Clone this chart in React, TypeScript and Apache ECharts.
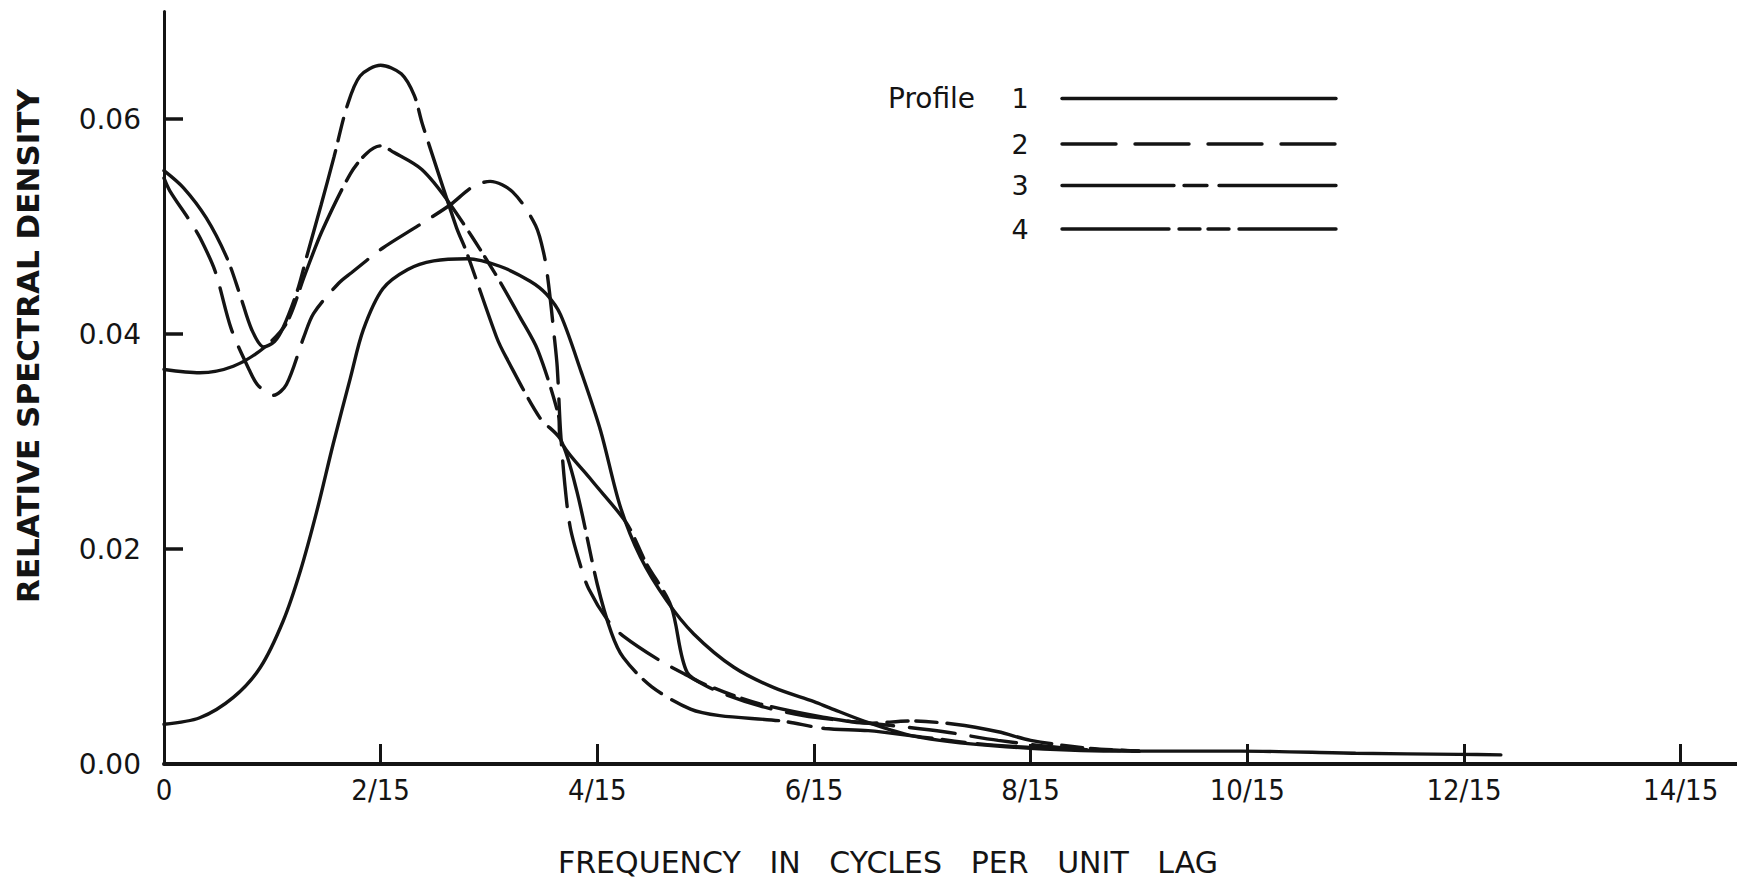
import React, { useEffect, useRef } from "react";
import * as echarts from "echarts";

// x values are frequencies in fifteenths of a cycle per unit lag
const xLabelValues = [0, 2, 4, 6, 8, 10, 12, 14];
const xTickValues = [2, 4, 6, 8, 10, 12, 14];
const yLabelValues = [0, 0.02, 0.04, 0.06];
const yTickValues = [0.02, 0.04, 0.06];
const profileNames = ["1", "2", "3", "4"];

const profile1: [number, number][] = [
  [0, 0.0037], [0.33, 0.0043], [0.64, 0.0062], [0.89, 0.009], [1.1, 0.0133],
  [1.26, 0.018], [1.41, 0.0235], [1.56, 0.0297], [1.72, 0.0359], [1.84, 0.0404],
  [2.02, 0.0442], [2.25, 0.046], [2.49, 0.0468], [2.8, 0.047], [3.1, 0.0463],
  [3.38, 0.0449], [3.53, 0.0437], [3.66, 0.0418], [3.85, 0.0365], [4.03, 0.031],
  [4.21, 0.024], [4.4, 0.0192], [4.64, 0.0152], [4.89, 0.0121], [5.26, 0.009],
  [5.63, 0.0071], [6.0, 0.0058], [6.15, 0.0052], [6.46, 0.004], [6.92, 0.0026],
  [7.66, 0.0017], [8.77, 0.0012], [9.94, 0.0012], [11.0, 0.001], [11.95, 0.0009],
  [12.34, 0.00085],
];

const profile2: [number, number][] = [
  [0, 0.0545], [0.055, 0.0533], [0.24, 0.0505], [0.33, 0.049], [0.47, 0.0459],
  [0.62, 0.0405], [0.79, 0.0366], [0.87, 0.0352], [1.01, 0.0343], [1.13, 0.0353],
  [1.29, 0.0397], [1.38, 0.0419], [1.61, 0.0447], [1.73, 0.0457], [2.02, 0.048],
  [2.35, 0.0501], [2.64, 0.052], [2.85, 0.0537], [3.01, 0.0542], [3.22, 0.0532],
  [3.43, 0.0501], [3.51, 0.0473], [3.55, 0.0446], [3.6, 0.04], [3.63, 0.0369],
  [3.66, 0.031], [3.7, 0.026], [3.75, 0.022], [3.84, 0.0186], [3.92, 0.0163],
  [4.1, 0.0133], [4.24, 0.0119], [4.58, 0.0096], [4.8, 0.0084], [5.1, 0.0068],
  [5.5, 0.0054], [5.9, 0.0045], [6.3, 0.004], [6.7, 0.0036], [7.2, 0.003],
  [7.7, 0.0022], [8.3, 0.0015], [9.0, 0.0012],
];

const profile3: [number, number][] = [
  [0, 0.0552], [0.18, 0.0536], [0.39, 0.0508], [0.58, 0.0471], [0.7, 0.0437],
  [0.81, 0.0404], [0.92, 0.0388], [1.02, 0.0393], [1.1, 0.0406], [1.23, 0.044],
  [1.32, 0.0473], [1.45, 0.052], [1.57, 0.0565], [1.69, 0.0612], [1.81, 0.064],
  [2.0, 0.065], [2.19, 0.0642], [2.31, 0.0622], [2.38, 0.0597], [2.45, 0.0575],
  [2.7, 0.0499], [2.79, 0.0477], [3.07, 0.0397], [3.16, 0.0378], [3.47, 0.0322],
  [3.66, 0.0302], [3.81, 0.0254], [4.0, 0.0167], [4.13, 0.0122], [4.24, 0.0099],
  [4.5, 0.0072], [4.86, 0.0051], [5.13, 0.0045], [5.7, 0.004], [6.1, 0.0033],
  [6.5, 0.0031], [7.0, 0.0025], [7.6, 0.0018], [8.3, 0.0014], [9.0, 0.0012],
];

const profile4: [number, number][] = [
  [0, 0.0367], [0.33, 0.0364], [0.64, 0.037], [0.92, 0.0387], [1.13, 0.041],
  [1.3, 0.0455], [1.46, 0.0496], [1.72, 0.0549], [1.87, 0.0568], [2.0, 0.0575],
  [2.12, 0.0569], [2.38, 0.0553], [2.64, 0.0521], [3.04, 0.0459], [3.29, 0.0415],
  [3.45, 0.0385], [3.64, 0.0325], [3.66, 0.0302], [3.93, 0.0266], [4.27, 0.0224],
  [4.45, 0.0187], [4.68, 0.0147], [4.83, 0.0085], [5.07, 0.0071], [5.5, 0.0056],
  [6.06, 0.0044], [6.5, 0.0038], [6.9, 0.004], [7.3, 0.0037], [7.7, 0.003],
  [8.0, 0.0022], [8.5, 0.0015], [9.0, 0.0012],
];

const profiles = [profile1, profile2, profile3, profile4];

export default function App() {
  const ref = useRef<HTMLDivElement>(null);

  useEffect(() => {
    if (!ref.current) return;
    const chart = echarts.init(ref.current, null, { renderer: "svg" });
    const ink = "#141414";
    const sans = "'DejaVu Sans', 'Noto Sans', sans-serif";
    const narrow = "'DejaVu Sans Condensed', 'Liberation Sans Narrow', 'DejaVu Sans', sans-serif";
    const dashes: any[] = ["solid", [46, 16], [110, 10, 23, 12], [107, 10, 21, 8, 21, 10]];
    const legendDashes: any[] = [null, [54, 19], [112, 10, 23, 12, 117, 100], [107, 10, 21, 8, 21, 10, 97, 60]];
    const legendRows = [98.5, 144, 185.5, 229];

    const legendGraphics: any[] = [
      {
        type: "text",
        x: 888,
        y: 98,
        style: { text: "Profile", fill: ink, font: `28px ${sans}`, textAlign: "left", textVerticalAlign: "middle" },
      },
    ];
    profileNames.forEach((n, i) => {
      legendGraphics.push({
        type: "text",
        x: 1020,
        y: legendRows[i],
        style: { text: n, fill: ink, font: `27px ${sans}`, textAlign: "center", textVerticalAlign: "middle" },
      });
      legendGraphics.push({
        type: "line",
        shape: { x1: 1062, y1: legendRows[i], x2: 1336, y2: legendRows[i] },
        style: { stroke: ink, lineWidth: 3.4, lineDash: legendDashes[i], lineCap: "round" },
      });
    });

    chart.setOption({
      animation: false,
      backgroundColor: "#ffffff",
      grid: { left: 164, right: 0, top: 11.5, bottom: 120, containLabel: false },
      xAxis: {
        type: "value",
        min: 0,
        max: 14.52,
        interval: 2,
        axisLine: { show: true, lineStyle: { color: ink, width: 4 } },
        axisTick: {
          show: true,
          inside: true,
          length: 20,
          customValues: xTickValues,
          lineStyle: { color: ink, width: 3 },
        },
        axisLabel: {
          customValues: xLabelValues,
          formatter: (v: number) => (v === 0 ? "0" : `${v}/15`),
          color: ink,
          fontFamily: narrow,
          fontSize: 29,
          margin: 11,
        },
        splitLine: { show: false },
      },
      yAxis: {
        type: "value",
        min: 0,
        max: 0.07,
        interval: 0.02,
        axisLine: { show: true, lineStyle: { color: ink, width: 3 } },
        axisTick: {
          show: true,
          inside: true,
          length: 19,
          customValues: yTickValues,
          lineStyle: { color: ink, width: 3.5 },
        },
        axisLabel: {
          customValues: yLabelValues,
          formatter: (v: number) => v.toFixed(2),
          color: ink,
          fontFamily: sans,
          fontSize: 28,
          margin: 23,
        },
        splitLine: { show: false },
      },
      graphic: [
        {
          type: "text",
          x: 28,
          y: 346,
          rotation: Math.PI / 2,
          style: {
            text: "RELATIVE SPECTRAL DENSITY",
            fill: ink,
            font: `bold 31px ${sans}`,
            textAlign: "center",
            textVerticalAlign: "middle",
          },
        },
        {
          type: "text",
          x: 888,
          y: 862,
          style: {
            text: "FREQUENCY   IN   CYCLES   PER   UNIT   LAG",
            fill: ink,
            font: `30px ${sans}`,
            textAlign: "center",
            textVerticalAlign: "middle",
          },
        },
        ...legendGraphics,
      ],
      series: profiles.map((data, i) => ({
        name: `Profile ${profileNames[i]}`,
        type: "line",
        data,
        showSymbol: false,
        symbol: "none",
        smooth: 0.3,
        lineStyle: { color: ink, width: 3.4, type: dashes[i], cap: "round" },
      })),
    });

    return () => chart.dispose();
  }, []);

  return (
    <div
      ref={ref}
      style={{ position: "fixed", left: 0, top: 0, width: 1737, height: 884, background: "#fff" }}
    />
  );
}
